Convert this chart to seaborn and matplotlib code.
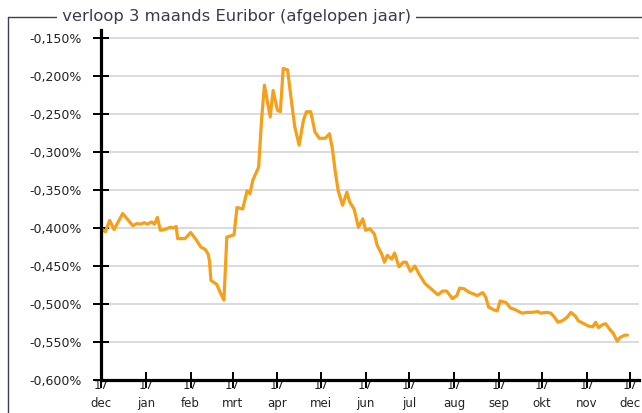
import pandas as pd
import seaborn as sns
import matplotlib.pyplot as plt
from matplotlib.lines import Line2D
from matplotlib.ticker import FuncFormatter

# 3 maands Euribor, 17 dec 2019 - 17 dec 2020
dates = [
    "2019-12-18", "2019-12-20", "2019-12-23", "2019-12-26", "2020-01-01", "2020-01-08",
    "2020-01-11", "2020-01-13", "2020-01-16", "2020-01-18", "2020-01-21", "2020-01-23",
    "2020-01-25", "2020-01-27", "2020-01-30", "2020-02-03", "2020-02-05", "2020-02-07",
    "2020-02-08", "2020-02-13", "2020-02-17", "2020-02-21", "2020-02-24", "2020-02-27",
    "2020-02-29", "2020-03-01", "2020-03-02", "2020-03-06", "2020-03-08", "2020-03-11",
    "2020-03-13", "2020-03-18", "2020-03-20", "2020-03-24", "2020-03-27", "2020-03-29",
    "2020-03-31", "2020-04-04", "2020-04-06", "2020-04-08", "2020-04-12", "2020-04-14",
    "2020-04-17", "2020-04-19", "2020-04-21", "2020-04-24", "2020-04-27", "2020-04-29",
    "2020-05-02", "2020-05-05", "2020-05-07", "2020-05-10", "2020-05-13", "2020-05-16",
    "2020-05-20", "2020-05-23", "2020-05-25", "2020-05-27", "2020-05-29", "2020-06-01",
    "2020-06-04", "2020-06-06", "2020-06-09", "2020-06-12", "2020-06-15", "2020-06-17",
    "2020-06-20", "2020-06-23", "2020-06-25", "2020-06-28", "2020-06-30", "2020-07-02",
    "2020-07-05", "2020-07-07", "2020-07-10", "2020-07-13", "2020-07-15", "2020-07-18",
    "2020-07-21", "2020-07-24", "2020-07-28", "2020-07-31", "2020-08-03", "2020-08-06",
    "2020-08-09", "2020-08-12", "2020-08-16", "2020-08-19", "2020-08-21", "2020-08-24",
    "2020-08-28", "2020-08-31", "2020-09-02", "2020-09-06", "2020-09-08", "2020-09-10",
    "2020-09-14", "2020-09-16", "2020-09-18", "2020-09-22", "2020-09-25", "2020-09-29",
    "2020-10-03", "2020-10-07", "2020-10-10", "2020-10-14", "2020-10-16", "2020-10-20",
    "2020-10-23", "2020-10-25", "2020-10-28", "2020-10-31", "2020-11-03", "2020-11-06",
    "2020-11-09", "2020-11-11", "2020-11-15", "2020-11-18", "2020-11-21", "2020-11-23",
    "2020-11-25", "2020-11-28", "2020-11-30", "2020-12-03", "2020-12-05", "2020-12-08",
    "2020-12-10", "2020-12-13", "2020-12-15",
]
rates = [
    -0.402, -0.405, -0.390, -0.402, -0.381, -0.397,
    -0.394, -0.395, -0.393, -0.395, -0.392, -0.395,
    -0.386, -0.403, -0.402, -0.399, -0.400, -0.398,
    -0.414, -0.414, -0.406, -0.416, -0.425, -0.428,
    -0.434, -0.443, -0.469, -0.474, -0.483, -0.495,
    -0.412, -0.409, -0.373, -0.375, -0.351, -0.355,
    -0.337, -0.320, -0.258, -0.212, -0.254, -0.219,
    -0.245, -0.247, -0.190, -0.192, -0.238, -0.267,
    -0.291, -0.258, -0.247, -0.247, -0.274, -0.282,
    -0.282, -0.276, -0.296, -0.326, -0.351, -0.370,
    -0.353, -0.366, -0.375, -0.399, -0.388, -0.403,
    -0.401, -0.408, -0.423, -0.434, -0.445, -0.436,
    -0.441, -0.433, -0.451, -0.445, -0.445, -0.457,
    -0.450, -0.461, -0.473, -0.478, -0.483, -0.488,
    -0.483, -0.483, -0.493, -0.489, -0.479, -0.480,
    -0.485, -0.487, -0.489, -0.485, -0.491, -0.504,
    -0.508, -0.509, -0.496, -0.498, -0.505, -0.508,
    -0.512, -0.511, -0.511, -0.510, -0.512, -0.511,
    -0.512, -0.516, -0.524, -0.522, -0.518, -0.511,
    -0.516, -0.522, -0.526, -0.529, -0.530, -0.524,
    -0.531, -0.527, -0.526, -0.534, -0.538, -0.549,
    -0.544, -0.541, -0.541,
]
tick_dates = pd.date_range("2019-12-01", periods=13, freq="MS") + pd.Timedelta(days=16)
tick_months = ["dec", "jan", "feb", "mrt", "apr", "mei", "jun", "jul", "aug", "sep", "okt", "nov", "dec"]
y_ticks = [-0.600, -0.550, -0.500, -0.450, -0.400, -0.350, -0.300, -0.250, -0.200, -0.150]

df = pd.DataFrame({"datum": pd.to_datetime(dates), "rente": rates})

sns.set_style("white")
fig = plt.figure(figsize=(6.42, 4.13), dpi=100)
ax = fig.add_axes([101 / 642, 1 - 380 / 413, 538 / 642, 350 / 413])

sns.lineplot(data=df, x="datum", y="rente", color="#f6a01a", linewidth=2.3, ax=ax)

ax.set_ylim(-0.600, -0.1395)
ax.set_xlim(tick_dates[0], tick_dates[-1] + pd.Timedelta(days=6))
ax.set_yticks(y_ticks)
ax.yaxis.set_major_formatter(FuncFormatter(lambda v, p: f"{v:.3f}%".replace(".", ",")))
ax.set_xticks(tick_dates)
ax.set_xticklabels([f"17\n{m}" for m in tick_months])
ax.grid(axis="y", color="#d4d4d4", linewidth=1.2)
ax.set_axisbelow(True)
ax.set_xlabel("")
ax.set_ylabel("")

for side in ["top", "right"]:
    ax.spines[side].set_visible(False)
for side in ["left", "bottom"]:
    ax.spines[side].set_linewidth(2.3)
    ax.spines[side].set_color("black")
ax.tick_params(axis="both", direction="inout", length=11, width=1.4, color="black",
               labelsize=8.5, labelcolor="#222222", bottom=True, left=True)
ax.tick_params(axis="x", pad=-6)
ax.tick_params(axis="y", pad=8, labelsize=9)
for lab in ax.get_xticklabels():
    lab.set_linespacing(1.45)

# kader met titel
fig.add_artist(Line2D([8 / 642, 8 / 642], [0, 1 - 17 / 413], color="#3a3f55", linewidth=1.0))
fig.add_artist(Line2D([8 / 642, 1], [1 - 17 / 413, 1 - 17 / 413], color="#3a3f55", linewidth=1.0))
fig.text(57 / 642, 1 - 17 / 413, " verloop 3 maands Euribor (afgelopen jaar) ", fontsize=11.8,
         color="#3a3a50", va="center", ha="left",
         bbox=dict(facecolor="white", edgecolor="none", pad=0))

fig.savefig("out.png", dpi=100)
